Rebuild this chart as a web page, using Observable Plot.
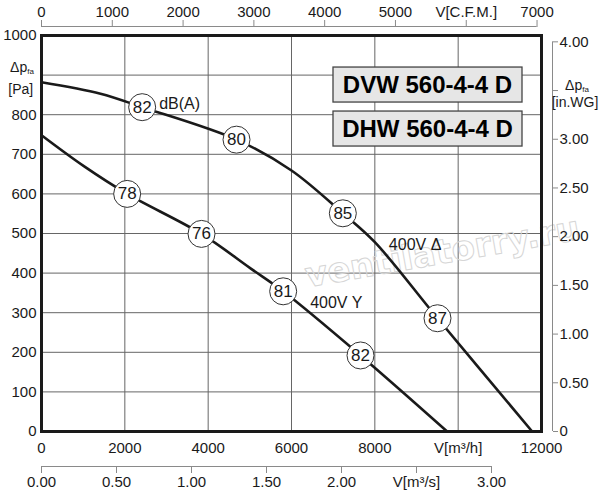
<!DOCTYPE html>
<html><head><meta charset="utf-8">
<script src="https://cdn.jsdelivr.net/npm/d3@7"></script>
<script src="https://cdn.jsdelivr.net/npm/@observablehq/plot@0.6"></script>
<style>body{margin:0;background:#fff}#chart{width:600px;height:500px}</style>
</head><body><div id="chart"></div>
<script>
// ---- data ----
const titles = ["DVW 560-4-4 D", "DHW 560-4-4 D"];
const watermark = "ventilatorry.ru";
// 400V Δ curve (flow m³/h, pressure Pa)
const deltaFlow = [0, 1416, 2416, 4680, 6000, 7232, 8000, 9504, 11776];
const deltaPa   = [882, 853, 819, 737, 659, 551, 478, 286, 0];
// 400V Y curve
const starFlow = [0, 1016, 2056, 3840, 5016, 5800, 7656, 9736];
const starPa   = [748, 670, 600, 499, 412, 354, 192, 0];
// sound levels dB(A) along curves
const deltaDbFlow = [2416, 4680, 7232, 9504];
const deltaDbPa   = [819, 737, 551, 286];
const deltaDb     = ["82", "80", "85", "87"];
const starDbFlow = [2056, 3840, 5800, 7656];
const starDbPa   = [600, 499, 354, 192];
const starDb     = ["78", "76", "81", "82"];
const curveNames = ["400V Δ", "400V Y"];
const dbUnit = "dB(A)";
// axes
const paTicks  = [0, 100, 200, 300, 400, 500, 600, 700, 800, 900, 1000];
const paLabels = ["0", "100", "200", "300", "400", "500", "600", "700", "800", "", "1000"];
const paName = ["Δp", "fa", "[Pa]"];
const paNameAt = 900;
const flowTicks  = [0, 2000, 4000, 6000, 8000, 10000, 12000];
const flowLabels = ["0", "2000", "4000", "6000", "8000", "V[m³/h]", "12000"];
const cfmTicks  = [0, 1000, 2000, 3000, 4000, 5000, 6000, 7000];
const cfmLabels = ["0", "1000", "2000", "3000", "4000", "5000", "V[C.F.M.]", "7000"];
const m3sTicks  = [0, 0.5, 1, 1.5, 2, 2.5, 3];
const m3sLabels = ["0.00", "0.50", "1.00", "1.50", "2.00", "V[m³/s]", "3.00"];
const inwgTicks  = [0, 0.5, 1, 1.5, 2, 2.5, 3, 3.5, 4];
const inwgLabels = ["0", "0.50", "1.00", "1.50", "2.00", "2.50", "3.00", "", "4.00"];
const inwgName = ["Δp", "fa", "[in.WG]"];
const inwgNameAt = 3.5;
// unit conversions (as drawn on the chart)
const CFM = 1.699, M3S = 3600, INWG = 246;

// ---- tables ----
const delta = deltaFlow.map((x, i) => ({x, y: deltaPa[i]}));
const star = starFlow.map((x, i) => ({x, y: starPa[i]}));
const dbPts = [
  ...deltaDbFlow.map((x, i) => ({x, y: deltaDbPa[i], t: deltaDb[i]})),
  ...starDbFlow.map((x, i) => ({x, y: starDbPa[i], t: starDb[i]}))
];
const cfmT = cfmTicks.map(v => v * CFM);
const m3sT = m3sTicks.map(v => v * M3S);
const inwgT = inwgTicks.map(v => v * INWG);
const lab = (ticks, labels) => d => labels[ticks.indexOf(d)];

const ink = "#1a1a1a", axisGray = "#8a8a8a", gridGray = "#666";

const svg = Plot.plot({
  width: 600, height: 500,
  marginLeft: 41, marginRight: 59, marginTop: 35, marginBottom: 69,
  x: {domain: [0, 12000]},
  y: {domain: [0, 1000]},
  style: {fontFamily: "'Liberation Sans', Arial, sans-serif", fontSize: "15px", color: ink, background: "white"},
  marks: [
    Plot.ruleX(flowTicks, {stroke: gridGray, strokeWidth: 1}),
    Plot.ruleY(paTicks, {stroke: gridGray, strokeWidth: 1}),
    Plot.text([watermark], {frameAnchor: "middle", dx: 151, dy: 19, rotate: -10, fontSize: 34, fontWeight: "bold",
      fontFamily: "DejaVu Sans", fill: "none", stroke: "#d6d6d6", strokeWidth: 1}),
    Plot.text([titles[0]], {frameAnchor: "top-right", dx: -114, dy: 40.5, textAnchor: "middle", fontSize: 24, fontWeight: "bold", fill: "#000"}),
    Plot.text([titles[1]], {frameAnchor: "top-right", dx: -114, dy: 84.5, textAnchor: "middle", fontSize: 24, fontWeight: "bold", fill: "#000"}),
    Plot.line(delta, {x: "x", y: "y", curve: "catmull-rom", stroke: ink, strokeWidth: 2.6}),
    Plot.line(star, {x: "x", y: "y", curve: "catmull-rom", stroke: ink, strokeWidth: 2.6}),
    Plot.dot(dbPts, {x: "x", y: "y", r: 13.5, fill: "white", stroke: "#333", strokeWidth: 1}),
    Plot.text(dbPts, {x: "x", y: "y", text: "t", fontSize: 17, fill: ink}),
    Plot.text([dbUnit], {x: () => deltaDbFlow[0], y: () => deltaDbPa[0], dx: 17, dy: -3.5, textAnchor: "start", fontSize: 16, fill: ink}),
    Plot.text([curveNames[0]], {x: () => deltaFlow[6], y: () => deltaPa[6], dx: 14, dy: 3, textAnchor: "start", fontSize: 16, fill: ink}),
    Plot.text([curveNames[1]], {x: () => starDbFlow[2], y: () => starDbPa[2], dx: 27, dy: 12, textAnchor: "start", fontSize: 16, fill: ink}),
    Plot.frame({stroke: ink, strokeWidth: 3}),
    // left Pa axis
    Plot.axisY({anchor: "left", ticks: paTicks, tickFormat: lab(paTicks, paLabels), tickSize: 0, tickPadding: 5, label: null, fill: ink}),
    Plot.text([paName[0]], {x: () => 0, y: () => paNameAt, dx: -14.3, dy: -8, textAnchor: "end", fontSize: 14, fill: ink}),
    Plot.text([paName[1]], {x: () => 0, y: () => paNameAt, dx: -14.3, dy: -3.5, textAnchor: "start", fontSize: 8, fill: ink}),
    Plot.text([paName[2]], {x: () => 0, y: () => paNameAt, dx: -20.7, dy: 14.5, textAnchor: "middle", fontSize: 14, fill: ink}),
    // bottom m³/h axis
    Plot.axisX({anchor: "bottom", ticks: flowTicks, tickFormat: lab(flowTicks, flowLabels), tickSize: 0, tickPadding: 10.5, label: null, fill: ink}),
    // top CFM axis
    Plot.ruleY([0], {y: () => 1000, x1: 0, x2: cfmT[cfmT.length - 1], dy: -9, stroke: axisGray, strokeWidth: 1}),
    Plot.axisX({anchor: "top", ticks: cfmT, tickFormat: lab(cfmT, cfmLabels), tickSize: 7, tickPadding: 3, dy: -9, stroke: axisGray, label: null, fill: ink}),
    // bottom m³/s axis
    Plot.ruleY([0], {y: () => 0, x1: 0, x2: m3sT[m3sT.length - 1], dy: 35, stroke: axisGray, strokeWidth: 1}),
    Plot.axisX({anchor: "bottom", ticks: m3sT, tickFormat: lab(m3sT, m3sLabels), tickSize: 7, tickPadding: 3, dy: 35, stroke: axisGray, label: null, fill: ink}),
    // right in.WG axis
    Plot.ruleX([0], {x: () => 12000, y1: 0, y2: inwgT[inwgT.length - 1], dx: 11, stroke: axisGray, strokeWidth: 1}),
    Plot.axisY({anchor: "right", ticks: inwgT, tickFormat: lab(inwgT, inwgLabels), tickSize: 5, tickPadding: 2, dx: 11, stroke: axisGray, label: null, fill: ink}),
    Plot.text([inwgName[0]], {x: () => 12000, y: () => inwgNameAt * INWG, dx: 40.7, dy: -5, textAnchor: "end", fontSize: 14, fill: ink}),
    Plot.text([inwgName[1]], {x: () => 12000, y: () => inwgNameAt * INWG, dx: 40.7, dy: -1.5, textAnchor: "start", fontSize: 8, fill: ink}),
    Plot.text([inwgName[2]], {x: () => 12000, y: () => inwgNameAt * INWG, dx: 33.5, dy: 12, textAnchor: "middle", fontSize: 14, fill: ink})
  ]
});
document.getElementById("chart").append(svg);

// boxes behind the model titles
d3.select(svg).selectAll("text").filter(function () { return titles.includes(this.textContent); }).each(function () {
  const b = this.getBBox();
  const cx = b.x + b.width / 2, cy = b.y + b.height / 2;
  const r = document.createElementNS("http://www.w3.org/2000/svg", "rect");
  r.setAttribute("x", cx - 94.5); r.setAttribute("y", cy - 17.5);
  r.setAttribute("width", 189); r.setAttribute("height", 35);
  r.setAttribute("fill", "#e6e6e6"); r.setAttribute("stroke", "#444"); r.setAttribute("stroke-width", 1.3);
  const tr = this.getAttribute("transform");
  if (tr) r.setAttribute("transform", tr);
  this.parentNode.insertBefore(r, this);
});
</script></body></html>
